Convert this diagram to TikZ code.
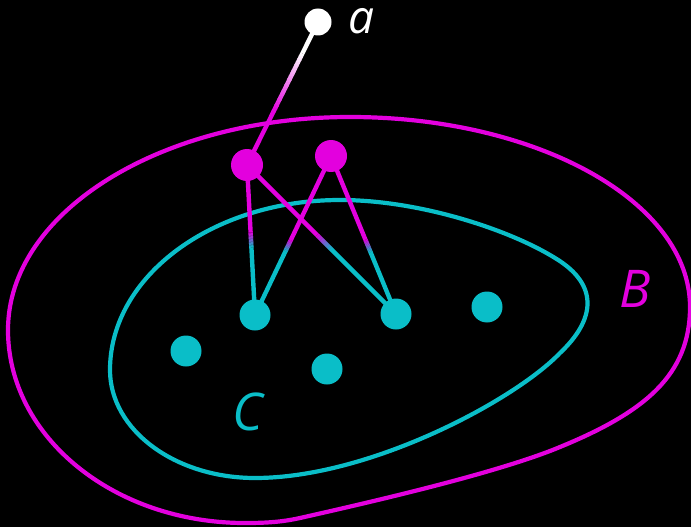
\documentclass[tikz,border=0pt]{standalone}
\usepackage{fontspec}
\setmainfont{Open Sans}
\usetikzlibrary{calc}
\definecolor{mag}{RGB}{227,0,222}
\definecolor{cyn}{RGB}{10,190,200}
\pgfdeclarelayer{bg}
\pgfdeclarelayer{edges}
\pgfsetlayers{bg,edges,main}
\tikzset{
  dotC/.style={circle,fill=cyn,minimum size=31pt,inner sep=0pt},
  dotM/.style={circle,fill=mag,minimum size=32pt,inner sep=0pt},
  dotA/.style={circle,fill=white,minimum size=27pt,inner sep=0pt},
  setline/.style={line width=4.2pt,line join=round},
  edgeline/.style={line width=4.4pt},
  lbl/.style={inner sep=0pt,anchor=base,font=\fontsize{52}{60}\selectfont\itshape},
  lbla/.style={lbl,font=\fontsize{46}{54}\selectfont\itshape}
}
\newcommand\gedge[6]{%
  \draw[edgeline,#3] (#1.center) -- ($(#1.center)!#5!(#2.center)$);
  \draw[edgeline,#4] ($(#1.center)!#6!(#2.center)$) -- (#2.center);
  \foreach \i in {0,...,19}{
    \pgfmathsetmacro\ta{#5+(#6-#5)*\i/20}
    \pgfmathsetmacro\tb{#5+(#6-#5)*(\i+1.3)/20}
    \pgfmathtruncatemacro\pc{(\i+0.5)*5}
    \draw[edgeline,line cap=butt,color=#4!\pc!#3] ($(#1.center)!\ta!(#2.center)$) -- ($(#1.center)!\tb!(#2.center)$);
  }}
\begin{document}
\begin{tikzpicture}[x=1pt,y=-1pt]
\useasboundingbox (0,0) rectangle (691,527);
% nodes
\node[dotA] (a) at (318,22) {};
\node[dotM] (m1) at (247,165) {};
\node[dotM] (m2) at (331,156) {};
\node[dotC] (c1) at (255,315) {};
\node[dotC] (c2) at (396,314) {};
\node[dotC] (c3) at (487,307) {};
\node[dotC] (c4) at (186,351) {};
\node[dotC] (c5) at (327,369) {};
% labels
\node[lbla,text=white] (la) at (362,34) {a};
\node[lbl,text=mag] (lB) at (635,307) {B};
\node[lbl,text=cyn] (lC) at (248,430) {C};
% set curves
\begin{pgfonlayer}{bg}
\fill[black] (0,0) rectangle (691,527);
\draw[setline,mag] (8,330)
  .. controls (8,212) and (161,117) .. (350,117)
  .. controls (538,117) and (690,202) .. (690,307)
  .. controls (690,375) and (645,412) .. (560,447)
  .. controls (500,472) and (380,500) .. (300,518)
  .. controls (280,522.5) and (262,523) .. (245,523)
  .. controls (114,523) and (8,437) .. (8,330) -- cycle;
\draw[setline,cyn] (110,370)
  .. controls (110,276) and (213,200) .. (340,200)
  .. controls (420,200) and (510,230) .. (555,258)
  .. controls (600,285) and (595,320) .. (560,353)
  .. controls (515,400) and (370,478) .. (255,478)
  .. controls (175,478) and (110,430) .. (110,370) -- cycle;
\end{pgfonlayer}
% edges
\begin{pgfonlayer}{edges}
\gedge{a}{m1}{white}{mag}{0.22}{0.62}
\gedge{m2}{c1}{mag}{cyn}{0.53}{0.60}
\gedge{m1}{c2}{mag}{cyn}{0.47}{0.57}
\gedge{m1}{c1}{mag}{cyn}{0.45}{0.55}
\gedge{m2}{c2}{mag}{cyn}{0.53}{0.61}
\end{pgfonlayer}
\end{tikzpicture}
\end{document}
